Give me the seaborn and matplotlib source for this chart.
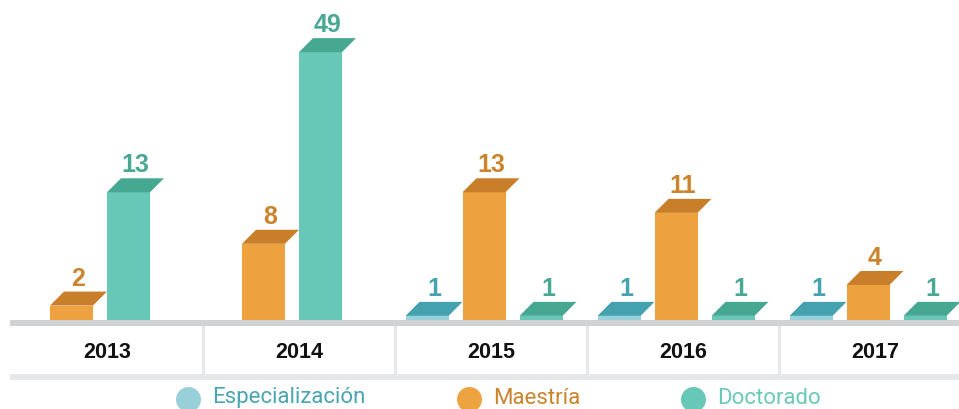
import numpy as np
import pandas as pd
import seaborn as sns
import matplotlib
matplotlib.use("Agg")
import matplotlib.pyplot as plt
from matplotlib.patches import Polygon, Rectangle, Circle
from matplotlib import font_manager

# ---- data ----
years = ["2013", "2014", "2015", "2016", "2017"]
series = ["Especialización", "Maestría", "Doctorado"]
especializacion = [None, None, 1, 1, 1]
maestria = [2, 8, 13, 11, 4]
doctorado = [13, 49, 1, 1, 1]

# ---- styling ----
front_colors = ["#98D1DA", "#EDA23F", "#68C8B7"]
cap_colors = ["#44A1AE", "#C97F29", "#47A892"]
label_colors = ["#45A2AF", "#CC842C", "#49A893"]
legend_text_colors = ["#4AA5B1", "#CC842C", "#6BC9B8"]
legend_dot_colors = ["#98D0DA", "#EDA33F", "#68C8B7"]
legend_left = [176, 457, 681]


def pick(*names):
    for n in names:
        try:
            font_manager.findfont(font_manager.FontProperties(family=n),
                                  fallback_to_default=False)
            return n
        except ValueError:
            continue
    return "DejaVu Sans"


num_font = pick("Liberation Sans", "Roboto", "DejaVu Sans")
narrow_font = pick("Liberation Sans Narrow", "Roboto", "Liberation Sans")

W, H, DPI = 959, 409, 100
cell_left, cell_w = 11, 192
bar_pitch, bar_w = 57, 43
depth = 14            # pseudo-3D depth of the bar tops, in pixels
base_px = 320         # baseline position from the top edge

# value axis: linear up to the knee, compressed above it
px_per_unit = 10.3
floor = 0.6
knee, squeeze = 13.0, 0.378


def fwd(v):
    v = np.asarray(v, dtype=float)
    return np.where(v <= knee, v, knee + (v - knee) * squeeze)


def inv(u):
    u = np.asarray(u, dtype=float)
    return np.where(u <= knee, u, knee + (u - knee) / squeeze)


# ---- long table with bar positions (present series centred per year) ----
rows = []
for i, yr in enumerate(years):
    vals = [especializacion[i], maestria[i], doctorado[i]]
    present = [(k, s, v) for k, (s, v) in enumerate(zip(series, vals)) if v is not None]
    center = cell_left + cell_w * (i + 0.5) - depth / 2
    n = len(present)
    for j, (k, s, v) in enumerate(present):
        rows.append(dict(year=yr, series=s, sidx=k, value=v,
                         pos=center + (j - (n - 1) / 2) * bar_pitch))
df = pd.DataFrame(rows)

fig = plt.figure(figsize=(W / DPI, H / DPI), dpi=DPI)
fig.patch.set_facecolor("white")
ax = fig.add_axes([0, (H - base_px) / H, 1, base_px / H])

sns.barplot(data=df, x="pos", y="value", hue="series", hue_order=series,
            palette=front_colors, saturation=1, native_scale=True, dodge=False,
            width=bar_w / bar_pitch, errorbar=None, legend=False,
            linewidth=0, edgecolor="none", ax=ax)

ax.set_yscale("function", functions=(fwd, inv))
ax.set_xlim(0, W)
ax.set_ylim(floor, float(inv(floor + base_px / px_per_unit)))
ax.axis("off")

# overlay in pixel units for the bar tops, table row and legend
ov = fig.add_axes([0, 0, 1, 1])
ov.set_xlim(0, W)
ov.set_ylim(H, 0)
ov.axis("off")
ov.patch.set_alpha(0)

# bar tops and value labels
for _, r in df.iterrows():
    x0 = r.pos - bar_w / 2
    dx0, dy0 = ax.transData.transform((x0, r.value))
    dx1, _ = ax.transData.transform((x0 + bar_w, r.value))
    top = H - dy0
    k = r.sidx
    cap = Polygon([(dx0, top), (dx1, top), (dx1 + depth, top - depth),
                   (dx0 + depth, top - depth)], closed=True,
                  facecolor=cap_colors[k], edgecolor="none")
    ov.add_patch(cap)
    ov.text((dx0 + dx1) / 2 + depth / 2, top - depth - 6, f"{r.value:g}",
            ha="center", va="baseline", fontsize=18, fontweight="bold",
            family=num_font, color=label_colors[k])

# baseline band, table cells and bottom rule
ov.add_patch(Rectangle((10, base_px), W - 10, 6, facecolor="#D1D2D4", edgecolor="none"))
ov.add_patch(Rectangle((10, 374), W - 10, 6, facecolor="#E6E7E8", edgecolor="none"))
for i in range(1, len(years)):
    xs = cell_left + cell_w * i
    ov.add_patch(Rectangle((xs - 1.5, base_px + 6), 3, 374 - base_px - 6,
                           facecolor="#E6E7E8", edgecolor="none"))
for i, yr in enumerate(years):
    ov.text(cell_left + cell_w * (i + 0.5), 358, yr, ha="center", va="baseline",
            fontsize=15.5, fontweight="bold", family=num_font, color="#111111")

# legend
r_dot = 12.5
for k, s in enumerate(series):
    x = legend_left[k]
    ov.add_patch(Circle((x + r_dot, 399.5), r_dot, facecolor=legend_dot_colors[k],
                        edgecolor="none"))
    ov.text(x + 2 * r_dot + 11, 403.5, s, ha="left", va="baseline",
            fontsize=16, family=narrow_font, color=legend_text_colors[k])

fig.savefig("out.png", dpi=DPI, facecolor="white")
